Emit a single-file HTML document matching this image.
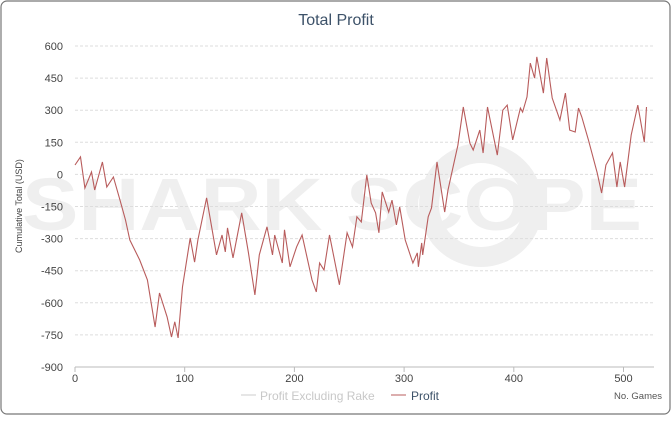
<!DOCTYPE html>
<html><head><meta charset="utf-8"><style>
body{margin:0;background:#fff;width:672px;height:416px;overflow:hidden;font-family:"Liberation Sans",sans-serif}
</style></head><body>
<svg width="672" height="416" xmlns="http://www.w3.org/2000/svg">
<rect x="1" y="1" width="669" height="413" rx="6" fill="#fff" stroke="#777" stroke-width="1.2"/>
<text x="336" y="25" text-anchor="middle" font-size="16" fill="#3d5269">Total Profit</text>
<g fill="#efefef" font-weight="bold" font-size="74">
<text x="22" y="230" textLength="620" lengthAdjust="spacingAndGlyphs">SHARK SCOPE</text>
<circle cx="481" cy="205" r="52" fill="none" stroke="#efefef" stroke-width="20"/>
</g>
<g id="grid"></g><g id="yt"></g><g id="xt"></g>
<line x1="75" y1="367" x2="654" y2="367" stroke="#bbb"/>
<text x="22" y="206" transform="rotate(-90 22 206)" text-anchor="middle" font-size="9" fill="#444">Cumulative Total (USD)</text>
<text x="638" y="399" text-anchor="middle" font-size="9.5" fill="#555">No. Games</text>
<g><line x1="241" y1="395" x2="256" y2="395" stroke="#ccc"/><text x="260" y="400" font-size="12" fill="#c8c8c8">Profit Excluding Rake</text></g>
<g><line x1="391" y1="395" x2="406" y2="395" stroke="#b85c5c"/><text x="411" y="400" font-size="12" fill="#3d5269">Profit</text></g>
<path id="line" fill="none" stroke="#b85c5c" stroke-width="1.1"/>
</svg>
<script>
const games=[0,5,9,15,18,25,29,35,41,46,50,59,66,73,77,84,88,91,94,98,105,109,112,120,129,134,137,139,144,152,158,164,168,175,180,182,189,191,196,202,207,216,220,223,227,232,241,248,253,257,261,266,270,274,277,280,286,289,293,296,301,308,312,313,316,317,322,325,330,337,340,345,349,354,360,363,369,372,376,385,390,394,399,406,408,412,415,419,421,427,430,435,442,447,451,456,459,462,468,476,480,484,490,494,497,501,507,513,519,521];
const profit=[44,82,-64,11,-73,58,-59,-12,-120,-213,-306,-400,-493,-713,-554,-666,-760,-689,-764,-525,-297,-410,-306,-110,-376,-283,-362,-250,-390,-180,-362,-563,-376,-245,-376,-283,-414,-259,-432,-339,-283,-493,-549,-414,-447,-283,-516,-273,-339,-198,-222,-3,-134,-180,-273,-82,-176,-120,-236,-152,-306,-414,-367,-432,-320,-376,-198,-157,58,-176,-73,44,137,315,146,114,207,100,315,90,300,324,161,310,291,362,520,450,549,380,544,357,254,380,207,198,310,268,161,7,-87,44,100,-59,58,-59,184,324,151,315];
const yTicks=[600,450,300,150,0,-150,-300,-450,-600,-750,-900];
const xTicks=[0,100,200,300,400,500];
const xs=g=>75+g*1.097;
const ys=v=>174.4-v*0.214;
const NS="http://www.w3.org/2000/svg";
const grid=document.getElementById('grid'),yt=document.getElementById('yt'),xt=document.getElementById('xt');
yTicks.forEach(v=>{
 if(v!==-900){const l=document.createElementNS(NS,'line');
 l.setAttribute('x1',75);l.setAttribute('x2',654);l.setAttribute('y1',ys(v));l.setAttribute('y2',ys(v));
 l.setAttribute('stroke','#ddd');l.setAttribute('stroke-dasharray','3,2');
 
 
 grid.appendChild(l);}
 const t=document.createElementNS(NS,'text');
 t.setAttribute('x',63);t.setAttribute('y',ys(v)+4);t.setAttribute('text-anchor','end');
 t.setAttribute('font-size','11');t.setAttribute('fill','#444');t.textContent=v;
 
 
 yt.appendChild(t);
});
xTicks.forEach(v=>{
 const l=document.createElementNS(NS,'line');
 l.setAttribute('x1',xs(v));l.setAttribute('x2',xs(v));l.setAttribute('y1',367);l.setAttribute('y2',372);l.setAttribute('stroke','#bbb');
 
 
 xt.appendChild(l);
 const t=document.createElementNS(NS,'text');
 t.setAttribute('x',xs(v));t.setAttribute('y',382);t.setAttribute('text-anchor','middle');
 t.setAttribute('font-size','11');t.setAttribute('fill','#444');t.textContent=v;
 
 
 xt.appendChild(t);
});
document.getElementById('line').setAttribute('d',games.map((g,i)=>(i?'L':'M')+xs(g).toFixed(1)+','+ys(profit[i]).toFixed(1)).join(''));
</script>
</body></html>
